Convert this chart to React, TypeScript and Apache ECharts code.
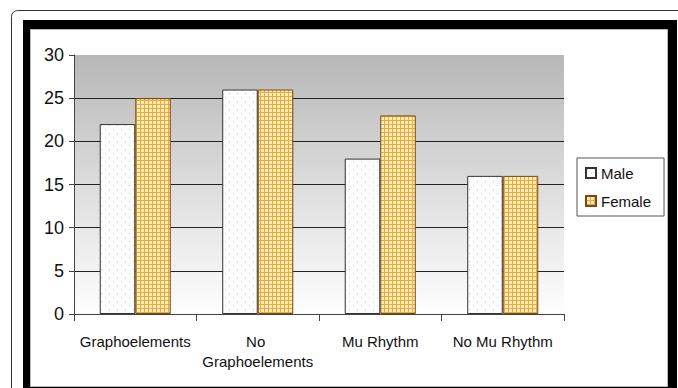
import React, { useEffect, useRef } from "react";
import * as echarts from "echarts";

// Chart data
const categories = ["Graphoelements", "No Graphoelements", "Mu Rhythm", "No Mu Rhythm"];
const maleValues = [22, 26, 18, 16];
const femaleValues = [25, 26, 23, 16];
const seriesNames = ["Male", "Female"];
const yMin = 0;
const yMax = 30;
const yInterval = 5;

const FONT = "'Liberation Sans', Arial, sans-serif";

// Light dotted fill for the first series
function makeDotPattern(): HTMLCanvasElement {
  const c = document.createElement("canvas");
  c.width = 8;
  c.height = 8;
  const ctx = c.getContext("2d")!;
  ctx.fillStyle = "#fdfdfd";
  ctx.fillRect(0, 0, 8, 8);
  ctx.fillStyle = "#cdcdcd";
  ctx.fillRect(1, 1, 1, 1);
  ctx.fillRect(5, 5, 1, 1);
  return c;
}

// Orange check fill for the second series
function makeCheckPattern(): HTMLCanvasElement {
  const c = document.createElement("canvas");
  c.width = 4;
  c.height = 4;
  const ctx = c.getContext("2d")!;
  ctx.fillStyle = "#efa83a";
  ctx.fillRect(0, 0, 4, 4);
  ctx.fillStyle = "#fdeebd";
  ctx.fillRect(1, 1, 3, 3);
  return c;
}

export default function App() {
  const ref = useRef<HTMLDivElement>(null);

  useEffect(() => {
    if (!ref.current) return;
    const chart = echarts.init(ref.current, undefined, { renderer: "svg" });

    const malePattern = { image: makeDotPattern(), repeat: "repeat" };
    const femalePattern = { image: makeCheckPattern(), repeat: "repeat" };

    const gridLineColors = ["#222", "#222", "#222", "#222", "#222", "#222", "transparent"];

    chart.setOption({
      animation: false,
      backgroundColor: "#ffffff",
      graphic: [
        {
          type: "rect",
          z: -100,
          silent: true,
          shape: { x: 11.5, y: 10.5, width: 720, height: 420, r: 6 },
          style: { fill: "#ffffff", stroke: "#333333", lineWidth: 1 },
        },
        {
          type: "rect",
          z: -99,
          silent: true,
          shape: { x: 23, y: 20, width: 654, height: 400 },
          style: { fill: "#000000" },
        },
        {
          type: "rect",
          z: -98,
          silent: true,
          shape: { x: 30.5, y: 29.5, width: 637, height: 357 },
          style: { fill: "#ffffff", stroke: "#b8b8b8", lineWidth: 1 },
        },
      ],
      grid: {
        left: 74,
        top: 55,
        width: 490,
        height: 259,
        show: true,
        borderWidth: 0,
        backgroundColor: new echarts.graphic.LinearGradient(0, 0, 0, 1, [
          { offset: 0, color: "#b7b7b7" },
          { offset: 0.55, color: "#e0e0e0" },
          { offset: 1, color: "#fefefe" },
        ]),
      },
      legend: {
        data: seriesNames,
        orient: "vertical",
        left: 577,
        top: 158,
        itemWidth: 10,
        itemHeight: 10,
        itemGap: 10,
        padding: [6, 13, 6, 8],
        backgroundColor: "#ffffff",
        borderColor: "#555555",
        borderWidth: 1,
        icon: "rect",
        textStyle: { fontFamily: FONT, fontSize: 15, color: "#111", lineHeight: 18 },
      },
      xAxis: {
        type: "category",
        data: categories,
        axisLine: { lineStyle: { color: "#444", width: 1 } },
        axisTick: { show: true, length: 7, lineStyle: { color: "#444" } },
        axisLabel: {
          interval: 0,
          margin: 17,
          fontFamily: FONT,
          fontSize: 15,
          color: "#111",
          lineHeight: 20,
          width: 120,
          overflow: "break",
        },
      },
      yAxis: {
        type: "value",
        min: yMin,
        max: yMax,
        interval: yInterval,
        axisLine: { show: true, lineStyle: { color: "#444", width: 1 } },
        axisTick: { show: true, length: 5, lineStyle: { color: "#444" } },
        axisLabel: { margin: 10, fontFamily: FONT, fontSize: 18, color: "#111" },
        splitLine: { show: true, lineStyle: { color: gridLineColors, width: 1 } },
      },
      series: [
        {
          name: seriesNames[0],
          type: "bar",
          data: maleValues,
          barGap: "0%",
          barCategoryGap: "42%",
          itemStyle: { color: malePattern, borderColor: "#333333", borderWidth: 1 },
        },
        {
          name: seriesNames[1],
          type: "bar",
          data: femaleValues,
          barGap: "0%",
          barCategoryGap: "42%",
          itemStyle: { color: femalePattern, borderColor: "#7a4a12", borderWidth: 1 },
        },
      ],
    });

    return () => chart.dispose();
  }, []);

  return (
    <div
      ref={ref}
      style={{ position: "absolute", left: 0, top: 0, width: 678, height: 388 }}
    />
  );
}
